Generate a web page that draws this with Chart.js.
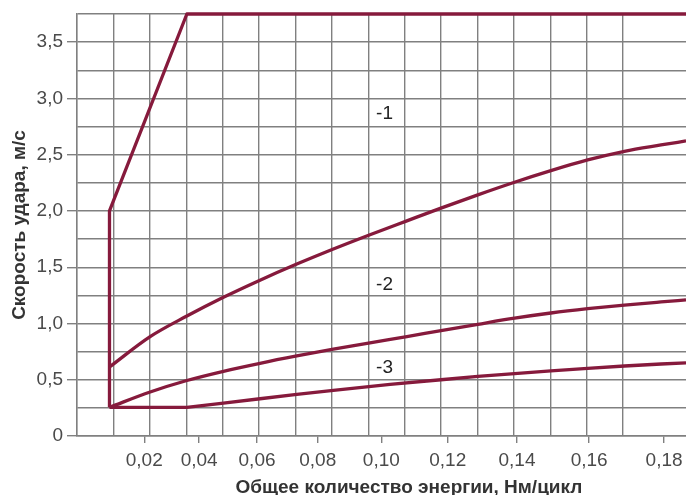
<!DOCTYPE html>
<html>
<head>
<meta charset="utf-8">
<script src="https://cdn.jsdelivr.net/npm/chart.js@4.4.1/dist/chart.umd.min.js"></script>
<style>
    html, body { margin: 0; padding: 0; background: #fff; }
    canvas { display: block; }
</style>
</head>
<body>
<canvas id="Chart" width="686" height="495"></canvas>
<script>
// energy axis labels, Nm/cycle
var xTicks = [0.02, 0.04, 0.06, 0.08, 0.10, 0.12, 0.14, 0.16, 0.18];
var xMin = -0.006;
var xMax = 0.1857;
var yMax = 3.75;

// outer limit: wall at low energy, slope, top line
var limitX = [0.0068, 0.0068, 0.0356, 0.1857];
var limitY = [0.255, 2.0, 3.75, 3.75];

// curve between zone -1 and zone -2
var upperX = [0.0068, 0.0222, 0.0356, 0.0485, 0.0610, 0.0732, 0.0850, 0.0965, 0.1078, 0.1180, 0.1288, 0.1393, 0.1495, 0.1596, 0.1695, 0.1792, 0.1857];
var upperY = [0.613, 0.883, 1.066, 1.233, 1.385, 1.528, 1.662, 1.789, 1.912, 2.025, 2.143, 2.255, 2.358, 2.453, 2.530, 2.586, 2.622];

// curve between zone -2 and zone -3
var middleX = [0.0068, 0.0222, 0.0356, 0.0485, 0.0610, 0.0732, 0.0850, 0.0965, 0.1078, 0.1180, 0.1288, 0.1393, 0.1495, 0.1596, 0.1695, 0.1792, 0.1857];
var middleY = [0.255, 0.391, 0.493, 0.575, 0.646, 0.711, 0.771, 0.828, 0.883, 0.937, 0.993, 1.047, 1.093, 1.131, 1.163, 1.191, 1.209];

// lower limit of zone -3
var lowerX = [0.0068, 0.0356, 0.0485, 0.0610, 0.0732, 0.0850, 0.1027, 0.1180, 0.1288, 0.1393, 0.1495, 0.1596, 0.1695, 0.1792, 0.1857];
var lowerY = [0.255, 0.255, 0.293, 0.331, 0.369, 0.406, 0.458, 0.500, 0.529, 0.555, 0.579, 0.601, 0.622, 0.640, 0.649];

var zoneNames = ['-1', '-2', '-3'];
var zoneX = [0.101, 0.101, 0.101];
var zoneY = [2.86, 1.34, 0.61];

var xTitle = 'Общее количество энергии, Нм/цикл';
var yTitle = 'Скорость удара, м/с';

var lineColor = '#861a3c';
var gridColor = '#808080';
var textColor = '#4a4a4a';
var fontFamily = '"Liberation Sans", Arial, sans-serif';
var gridCols = 16.73;   // background squares across the plot
var bend = 0.2155;      // printed energy scale gets wider to the right

Chart.defaults.font.family = fontFamily;

class WarpScale extends Chart.LinearScale {
    getPixelForValue(value) {
        if (value === null) return NaN;
        var t = (value - this.min) / (this.max - this.min);
        return this.getPixelForDecimal(t + bend * t * (t - 1));
    }
    getValueForPixel(pixel) {
        var u = this.getDecimalForPixel(pixel);
        var a = 1 - bend;
        var t = (Math.sqrt(a * a + 4 * bend * u) - a) / (2 * bend);
        return this.min + t * (this.max - this.min);
    }
}
WarpScale.id = 'warp';
WarpScale.defaults = Chart.LinearScale.defaults;
Chart.register(WarpScale);

function points(xs, ys) {
    return xs.map(function(x, i) { return {x: x, y: ys[i]}; });
}

function curve(xs, ys, smooth) {
    return {
        data: points(xs, ys),
        showLine: true,
        borderColor: lineColor,
        borderWidth: 3.3,
        borderJoinStyle: 'round',
        pointRadius: 0,
        cubicInterpolationMode: smooth ? 'monotone' : 'default',
        tension: 0,
        clip: false
    };
}

function isHalf(v) {
    var h = v * 2;
    return Math.abs(h - Math.round(h)) < 1e-6;
}

var textPlugin = {
    id: 'textPlugin',
    afterDraw: function(chart) {
        var ctx = chart.ctx;
        var xs = chart.scales.x;
        var ys = chart.scales.y;
        var area = chart.chartArea;
        ctx.save();
        ctx.fillStyle = '#222';
        ctx.textAlign = 'center';
        ctx.textBaseline = 'middle';
        ctx.font = '19px ' + fontFamily;
        for (var i = 0; i < zoneNames.length; i++) {
            ctx.fillText(zoneNames[i], xs.getPixelForValue(zoneX[i]), ys.getPixelForValue(zoneY[i]));
        }
        ctx.fillStyle = '#333';
        ctx.textBaseline = 'alphabetic';
        ctx.font = 'bold 19px ' + fontFamily;
        ctx.fillText(xTitle, area.left + area.width * 0.545, chart.height - 2);
        ctx.restore();
    }
};

var ctx = document.getElementById('Chart').getContext('2d');
var myChart = new Chart(ctx, {
    type: 'scatter',
    data: {
        datasets: [
            curve(limitX, limitY, false),
            curve(upperX, upperY, true),
            curve(middleX, middleY, true),
            curve(lowerX, lowerY, false)
        ]
    },
    options: {
        responsive: false,
        animation: false,
        devicePixelRatio: 1,
        layout: { padding: { top: 14, right: 0, bottom: 0, left: 0 } },
        plugins: {
            legend: { display: false },
            tooltip: { enabled: false }
        },
        scales: {
            x: {
                type: 'warp',
                position: 'bottom',
                min: xMin,
                max: xMax,
                afterBuildTicks: function(scale) {
                    scale.ticks = xTicks.map(function(v) { return {value: v}; });
                },
                afterFit: function(scale) {
                    scale.height = 59;
                    scale.paddingLeft = 0;
                    scale.paddingRight = 0;
                },
                grid: { drawOnChartArea: false, drawTicks: true, tickLength: 7, color: gridColor, lineWidth: 1.4 },
                border: { display: true, color: gridColor, width: 1.4 },
                ticks: {
                    padding: 6,
                    color: textColor,
                    font: { size: 19 },
                    maxRotation: 0,
                    autoSkip: false,
                    callback: function(v) { return v.toFixed(2).replace('.', ','); }
                }
            },
            xGrid: {
                type: 'linear',
                axis: 'x',
                position: 'top',
                min: 0,
                max: gridCols,
                afterBuildTicks: function(scale) {
                    scale.ticks = scale.ticks.filter(function(t) { return Math.abs(t.value - Math.round(t.value)) < 1e-6; });
                },
                ticks: { display: false, stepSize: 1 },
                grid: { drawTicks: false, color: gridColor, lineWidth: 1.4 },
                border: { display: false }
            },
            y: {
                min: 0,
                max: yMax,
                afterFit: function(scale) {
                    scale.width = 77;
                    scale.paddingTop = 0;
                    scale.paddingBottom = 0;
                },
                grid: {
                    color: gridColor,
                    lineWidth: 1.4,
                    tickLength: 10,
                    tickColor: function(c) { return isHalf(c.tick.value) ? gridColor : 'rgba(0,0,0,0)'; }
                },
                border: { display: true, color: gridColor, width: 1.4 },
                ticks: {
                    stepSize: 0.25,
                    padding: 4,
                    color: textColor,
                    font: { size: 19 },
                    callback: function(v) {
                        if (!isHalf(v)) return '';
                        return v === 0 ? '0' : v.toFixed(1).replace('.', ',');
                    }
                },
                title: {
                    display: true,
                    text: yTitle,
                    color: '#333',
                    font: { size: 19, weight: 'bold' },
                    padding: { top: 8, bottom: 0 }
                }
            }
        }
    },
    plugins: [textPlugin]
});
</script>
</body>
</html>
